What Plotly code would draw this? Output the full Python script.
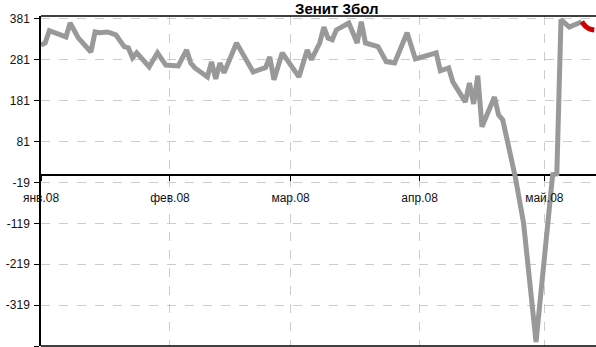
import plotly.graph_objects as go

# data
dates = ["2008-01-01", "2008-01-02", "2008-01-03", "2008-01-07", "2008-01-08", "2008-01-10",
         "2008-01-13", "2008-01-14", "2008-01-15", "2008-01-17", "2008-01-19", "2008-01-21",
         "2008-01-22", "2008-01-23", "2008-01-24", "2008-01-27", "2008-01-29", "2008-01-31",
         "2008-02-03", "2008-02-05", "2008-02-06", "2008-02-07", "2008-02-10", "2008-02-11",
         "2008-02-12", "2008-02-13", "2008-02-14", "2008-02-17", "2008-02-21", "2008-02-24",
         "2008-02-25", "2008-02-26", "2008-02-28", "2008-03-03", "2008-03-05", "2008-03-06",
         "2008-03-08", "2008-03-09", "2008-03-10", "2008-03-11", "2008-03-12", "2008-03-15",
         "2008-03-17", "2008-03-18", "2008-03-19", "2008-03-22", "2008-03-24", "2008-03-26",
         "2008-03-29", "2008-03-31", "2008-04-05", "2008-04-06", "2008-04-08", "2008-04-09",
         "2008-04-12", "2008-04-13", "2008-04-14", "2008-04-15", "2008-04-16", "2008-04-19",
         "2008-04-20", "2008-04-21", "2008-04-24", "2008-04-26", "2008-04-29", "2008-05-03",
         "2008-05-04", "2008-05-05", "2008-05-07", "2008-05-10"]
values = [317, 322, 352, 337, 371, 334,
          300, 349, 347, 349, 342, 313,
          310, 286, 298, 264, 298, 268,
          266, 305, 273, 261, 239, 276,
          234, 273, 249, 322, 251, 262,
          288, 232, 298, 239, 305, 281,
          322, 361, 334, 330, 354, 371,
          322, 374, 322, 313, 276, 273,
          347, 283, 298, 254, 261, 227,
          178, 224, 173, 242, 117, 190,
          146, 134, -5, -118, -409, 0,
          2, 379, 361, 374]

red_dates = ["2008-05-10", "2008-05-11", "2008-05-12", "2008-05-13"]
red_values = [374, 362, 356, 354]

ytick_vals = [381, 281, 181, 81, -19, -119, -219, -319, -419]
month_vals = ["2008-01-01", "2008-02-01", "2008-03-01", "2008-04-01", "2008-05-01"]
month_text = ["янв.08", "фев.08", "мар.08", "апр.08", "май.08"]

title = "Зенит 3бол"

ymin, ymax = -419, 388
font = dict(family="Liberation Sans, Arial", size=12, color="#111")

fig = go.Figure()
fig.add_trace(go.Scatter(x=dates, y=values, mode="lines",
                         line=dict(color="#999999", width=5)))
fig.add_trace(go.Scatter(x=red_dates, y=red_values, mode="lines",
                         line=dict(color="#cc0000", width=5, shape="spline")))

fig.update_layout(
    width=596, height=347,
    margin=dict(l=41, r=0, t=16, b=1, pad=0),
    paper_bgcolor="white", plot_bgcolor="white",
    showlegend=False,
    font=font,
    xaxis=dict(range=["2008-01-01", "2008-05-13 10:00"],
               tickvals=month_vals, ticktext=month_text,
               anchor="free", position=(0 - ymin) / (ymax - ymin),
               showgrid=True, gridcolor="#cccccc", griddash="dash", gridwidth=1,
               ticks="outside", ticklen=5, tickcolor="black", tickwidth=1,
               ticklabelstandoff=7, automargin=False,
               showline=False, zeroline=False),
    yaxis=dict(range=[ymin, ymax], tickvals=ytick_vals,
               ticktext=[str(v) for v in ytick_vals], automargin=False,
               showgrid=True, gridcolor="#cccccc", griddash="dash", gridwidth=1,
               zeroline=True, zerolinecolor="black", zerolinewidth=1.5,
               showline=True, linecolor="black", linewidth=1.5,
               ticks="outside", ticklen=5, tickcolor="black", ticklabelstandoff=2),
)

# top and bottom frame lines
fig.add_shape(type="line", xref="paper", yref="paper", x0=0, x1=1, y0=1, y1=1,
              line=dict(color="black", width=1.5))
fig.add_shape(type="line", xref="paper", yref="paper", x0=0, x1=1, y0=0, y1=0,
              line=dict(color="black", width=1.5))

fig.add_annotation(text="<b>" + title + "</b>", xref="paper", yref="paper",
                   x=(336 - 41) / 555, y=1 + 7 / 330, xanchor="center", yanchor="middle",
                   showarrow=False, font=dict(family="Liberation Sans, Arial", size=15, color="black"))

# page body has an 8px margin by default, drop it so the figure sits at 0,0
fig.write_html("out.html", config={"displayModeBar": False},
               post_script="document.body.style.margin='0';")
